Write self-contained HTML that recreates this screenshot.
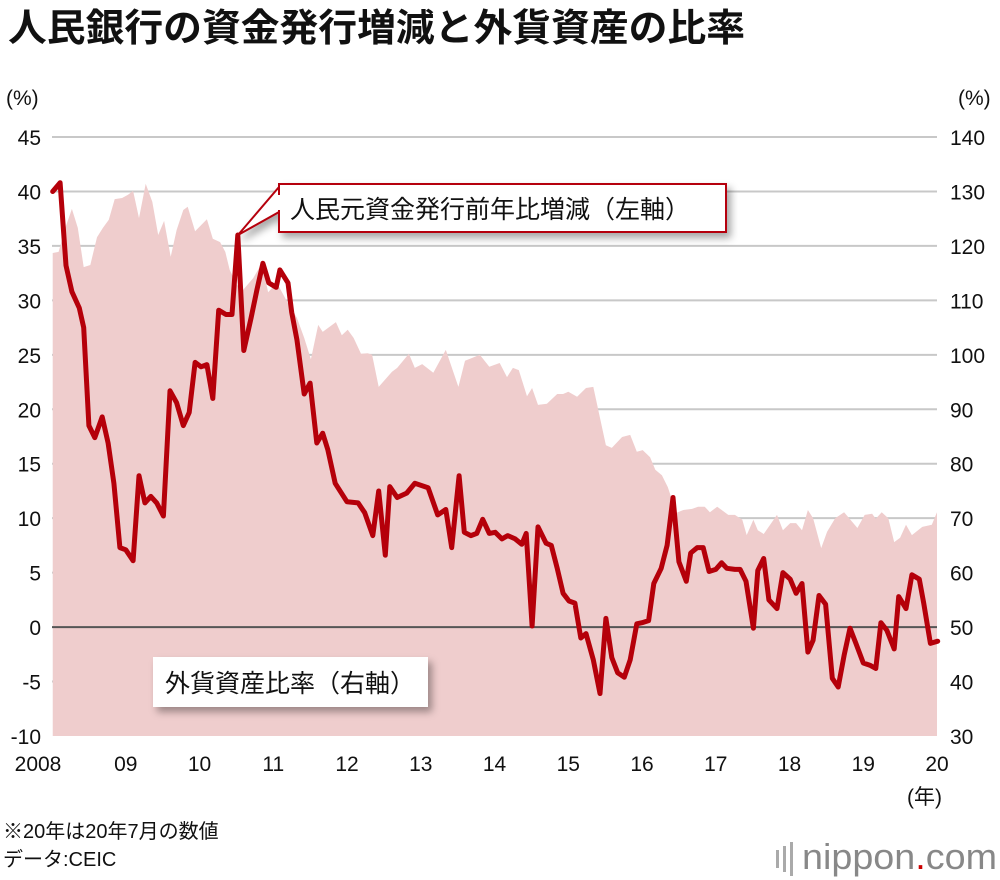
<!DOCTYPE html>
<html><head><meta charset="utf-8"><style>
body{margin:0;background:#fff;font-family:"Liberation Sans","Noto Sans CJK JP",sans-serif;}
#wrap{position:relative;width:1000px;height:880px;overflow:hidden;}
</style></head><body>
<div id="wrap">
<svg id="chart" width="1000" height="880" style="font-family:'Liberation Sans','Noto Sans CJK JP',sans-serif;">
<defs><filter id="sh" x="-10%" y="-20%" width="130%" height="160%"><feDropShadow dx="4" dy="5" stdDeviation="4" flood-color="#000" flood-opacity="0.35"/></filter></defs>
<text x="8" y="41" font-size="38" font-weight="bold" fill="#111" textLength="737" lengthAdjust="spacingAndGlyphs">人民銀行の資金発行増減と外貨資産の比率</text>
<text x="6" y="105" font-size="21" fill="#111">(%)</text>
<text x="958" y="105" font-size="21" fill="#111">(%)</text>
<g id="grid"></g>
<g id="area"></g>
<g id="zero"></g>
<g id="line"></g>
<g id="axes"></g>
<g filter="url(#sh)">
<polygon points="279,187 238,235 279,212" fill="#fff" stroke="#b5000a" stroke-width="2"/>
<rect x="279" y="184" width="447" height="48" fill="#fff" stroke="#b5000a" stroke-width="2"/>
</g>
<rect x="278" y="195" width="4" height="15" fill="#fff"/>
<text x="290" y="218" font-size="25" fill="#111">人民元資金発行前年比増減（左軸）</text>
<rect x="153" y="657" width="275" height="50" fill="#fff" filter="url(#sh)"/>
<text x="165" y="692" font-size="25" fill="#111">外貨資産比率（右軸）</text>
<text x="907" y="804" font-size="21" fill="#111">(年)</text>
<text x="3" y="838" font-size="20" fill="#111">※20年は20年7月の数値</text>
<text x="3" y="866" font-size="20" fill="#111">データ:CEIC</text>
<g>
<rect x="776" y="850" width="3" height="18" fill="#aaa"/><rect x="783" y="846" width="3" height="26" fill="#aaa"/><rect x="790" y="842" width="3" height="34" fill="#aaa"/>
<text x="802" y="869" font-size="36" fill="#888" textLength="195" lengthAdjust="spacingAndGlyphs">nippon<tspan fill="#c00">.</tspan>com</text>
</g>
</svg>
</div>
<script>
const leftTicks=[45,40,35,30,25,20,15,10,5,0,-5,-10];
const rightTicks=[140,130,120,110,100,90,80,70,60,50,40,30];
const yearLabels=["2008","09","10","11","12","13","14","15","16","17","18","19","20"];
const lineT=[.01,.11,.19,.27,.37,.43,.50,.58,.68,.76,.84,.92,1.00,1.10,1.18,1.26,1.34,1.42,1.51,1.60,1.69,1.78,1.86,1.94,2.02,2.10,2.18,2.26,2.36,2.44,2.52,2.60,2.70,2.78,2.86,2.94,3.04,3.09,3.20,3.25,3.32,3.42,3.50,3.59,3.67,3.74,3.84,4.00,4.15,4.24,4.35,4.43,4.52,4.58,4.68,4.81,4.92,5.10,5.23,5.34,5.42,5.52,5.59,5.68,5.76,5.84,5.93,6.01,6.10,6.18,6.28,6.37,6.43,6.51,6.59,6.70,6.77,6.85,6.93,7.01,7.09,7.17,7.24,7.34,7.43,7.51,7.59,7.67,7.76,7.84,7.93,8.00,8.09,8.16,8.26,8.34,8.42,8.50,8.60,8.66,8.75,8.83,8.91,9.00,9.08,9.15,9.26,9.33,9.41,9.51,9.57,9.65,9.72,9.83,9.91,10.01,10.09,10.17,10.25,10.32,10.40,10.49,10.58,10.66,10.74,10.82,10.90,11.00,11.09,11.17,11.24,11.32,11.42,11.48,11.58,11.66,11.76,11.82,11.91,12.01];
const lineV=[40.0,40.8,33.2,30.8,29.3,27.5,18.5,17.4,19.3,16.9,13.2,7.3,7.1,6.1,13.9,11.4,12.0,11.4,10.2,21.7,20.6,18.5,19.7,24.3,23.9,24.1,21.0,29.1,28.7,28.7,36.0,25.4,28.4,31.0,33.4,31.6,31.2,32.8,31.6,28.9,26.4,21.4,22.4,16.9,17.8,16.3,13.2,11.5,11.4,10.5,8.4,12.5,6.6,12.9,11.9,12.3,13.2,12.8,10.3,10.8,7.3,13.9,8.7,8.4,8.6,9.9,8.6,8.7,8.1,8.4,8.1,7.6,8.6,0.1,9.2,7.7,7.5,5.4,3.1,2.4,2.2,-1.0,-0.6,-3.0,-6.1,0.8,-2.8,-4.2,-4.6,-3.0,0.3,0.4,0.6,4.0,5.4,7.5,11.9,6.0,4.2,6.8,7.3,7.3,5.1,5.3,5.9,5.4,5.3,5.3,4.2,-0.1,5.2,6.3,2.5,1.7,5.0,4.4,3.1,4.0,-2.3,-1.2,2.9,2.1,-4.7,-5.5,-2.6,-0.1,-1.5,-3.3,-3.5,-3.8,0.4,-0.3,-2.0,2.8,1.7,4.8,4.4,2.2,-1.5,-1.3];
const areaT=[.01,.09,.18,.27,.35,.43,.52,.61,.69,.77,.85,.95,1.03,1.10,1.18,1.27,1.36,1.44,1.52,1.61,1.69,1.78,1.84,1.94,2.10,2.18,2.28,2.35,2.41,2.51,2.59,2.73,2.85,2.93,3.05,3.19,3.32,3.42,3.51,3.61,3.67,3.85,3.93,4.01,4.09,4.19,4.28,4.34,4.43,4.61,4.68,4.84,4.92,5.02,5.17,5.34,5.51,5.60,5.69,5.80,5.93,6.07,6.17,6.25,6.33,6.44,6.51,6.59,6.71,6.85,6.93,7.00,7.12,7.24,7.34,7.51,7.59,7.73,7.84,7.93,8.01,8.11,8.18,8.27,8.35,8.41,8.47,8.56,8.68,8.76,8.85,8.92,9.02,9.17,9.26,9.36,9.42,9.51,9.57,9.65,9.83,9.91,10.01,10.09,10.17,10.25,10.32,10.43,10.51,10.62,10.74,10.92,11.02,11.12,11.17,11.25,11.34,11.42,11.50,11.58,11.66,11.80,11.93,12.00];
const areaV=[118.7,118.9,123.3,126.8,123.3,116.1,116.5,121.6,123.3,124.8,128.6,128.8,129.4,130.1,125.1,131.4,128.1,122.0,124.6,118.0,122.9,126.6,127.2,122.7,124.9,121.3,120.7,118.9,115.6,112.8,111.9,114.1,116.9,111.5,113.2,109.7,106.8,103.1,99.2,105.5,104.2,106.0,103.6,104.6,103.1,100.2,100.3,100.0,94.1,96.9,97.6,100.2,97.6,98.3,96.7,100.9,94.1,98.9,99.4,100.0,97.8,98.5,95.9,97.6,97.2,92.4,93.9,90.8,91.0,92.8,92.8,93.2,92.3,93.9,94.1,83.4,82.9,84.9,85.3,82.2,82.5,81.2,78.9,77.9,75.7,73.3,71.0,71.5,71.7,72.1,72.1,71.1,72.1,70.6,70.6,69.7,66.9,69.7,67.8,67.1,70.6,67.8,69.1,69.1,67.8,71.5,70.0,64.5,67.5,70.0,71.1,68.2,70.6,70.8,69.9,71.1,70.0,65.6,66.4,68.8,66.9,68.4,68.8,71.1];
const X0=52,X1=937,YT=137,YB=736;
const xs=t=>X0+t*(X1-X0)/12;
const yL=v=>YB-(v+10)*(YB-YT)/55;
const yR=v=>YB-(v-30)*(YB-YT)/110;
const NS="http://www.w3.org/2000/svg";
function mk(tag,attrs,parent){const e=document.createElementNS(NS,tag);for(const k in attrs)e.setAttribute(k,attrs[k]);document.getElementById(parent).appendChild(e);return e;}
leftTicks.forEach((v,i)=>{
 if(v!==-10&&v!==0){const g=mk('line',{x1:X0,x2:X1,y1:yL(v),y2:yL(v),stroke:'#c8c8c8','stroke-width':2},'grid');
 
 }
 const t=mk('text',{x:41,y:yL(v)+8,'font-size':21,'text-anchor':'end',fill:'#111'},'axes');t.textContent=v;
 
 
 const r=mk('text',{x:950,y:yL(v)+8,'font-size':21,fill:'#111'},'axes');r.textContent=rightTicks[i];
 
 
});
yearLabels.forEach((s,i)=>{
 const t=mk('text',{x:i===0?38:xs(i),y:771,'font-size':21,'text-anchor':'middle',fill:'#111'},'axes');t.textContent=s;
 
 
});
let d='M'+xs(areaT[0])+','+YB;
areaT.forEach((t,i)=>{d+=' L'+xs(t).toFixed(1)+','+yR(areaV[i]).toFixed(1);});
d+=' L'+xs(areaT[areaT.length-1])+','+YB+' Z';
const a=mk('path',{d:d,fill:'#efcdcd'},'area');


const z=mk('line',{x1:X0,x2:X1,y1:yL(0),y2:yL(0),stroke:'#555','stroke-width':2},'zero');


const pts=lineT.map((t,i)=>xs(t).toFixed(1)+','+yL(lineV[i]).toFixed(1)).join(' ');
const l=mk('polyline',{points:pts,fill:'none',stroke:'#b5000a','stroke-width':5,'stroke-linejoin':'round','stroke-linecap':'round'},'line');


</script>
</body></html>
